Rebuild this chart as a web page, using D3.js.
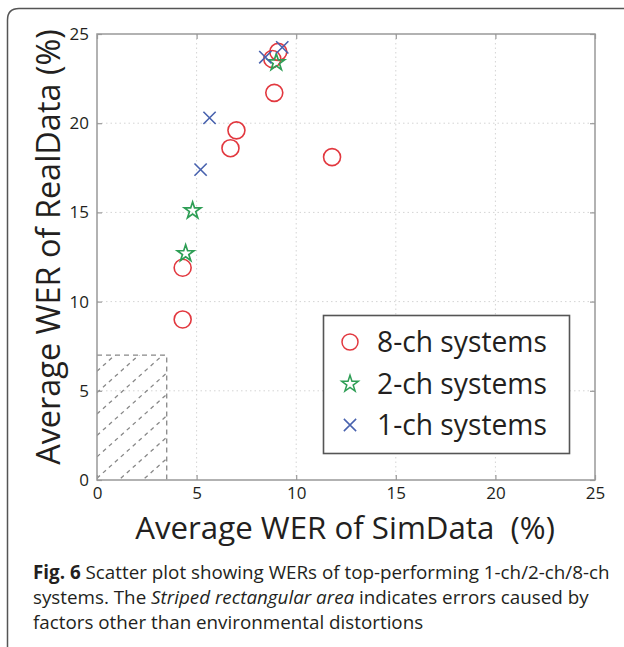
<!doctype html>
<html lang="en">
<head>
<meta charset="utf-8">
<title>WER scatter</title>
<script src="https://d3js.org/d3.v7.min.js"></script>
<style>
  body { margin: 0; background: #fff; }
  text { font-family: "Open Sans", "Noto Sans", sans-serif; fill: #231f20; }
</style>
</head>
<body>
<div id="chart"></div>
<script>
// data (x = SimData WER %, y = RealData WER %)
var ch8X = [4.3, 4.3, 6.7, 7.0, 11.8, 8.9, 8.8, 9.1];
var ch8Y = [9.0, 11.9, 18.6, 19.6, 18.1, 21.7, 23.6, 24.0];
var ch2X = [4.8, 4.45, 9.0];
var ch2Y = [15.1, 12.7, 23.4];
var ch1X = [5.2, 5.65, 8.45, 9.3];
var ch1Y = [17.4, 20.3, 23.7, 24.25];
var ticks = [0, 5, 10, 15, 20, 25];
var seriesNames = ["8-ch systems", "2-ch systems", "1-ch systems"];
// striped area: SimData 0..3.5, RealData 0..7
var areaX = [0, 3.5];
var areaY = [0, 7];

var width = 624, height = 647;
// plot box (window.top is reserved, so use other names)
var plotL = 97, plotR = 595, plotT = 34, plotB = 480;

var svg = d3.select("#chart").append("svg")
    .attr("width", width)
    .attr("height", height);

// figure frame (only left & top edge visible, rounded corner)
svg.append("path")
    .attr("d", "M7.5," + height + " L7.5,20 Q7.5,8.5 19,8.5 L" + width + ",8.5")
    .attr("fill", "none")
    .attr("stroke", "#555")
    .attr("stroke-width", 1.5);

var x = d3.scaleLinear().domain([0, 25]).range([plotL, plotR]);
var y = d3.scaleLinear().domain([0, 25]).range([plotB, plotT]);

// dotted grid
var inner = ticks.slice(1, -1);
svg.selectAll(".gx").data(inner).enter().append("line")
    .attr("x1", d => x(d)).attr("x2", d => x(d))
    .attr("y1", plotT).attr("y2", plotB)
    .attr("stroke", "#d4d4d4").attr("stroke-dasharray", "1.5,3");
svg.selectAll(".gy").data(inner).enter().append("line")
    .attr("y1", d => y(d)).attr("y2", d => y(d))
    .attr("x1", plotL).attr("x2", plotR)
    .attr("stroke", "#d4d4d4").attr("stroke-dasharray", "1.5,3");

// striped rectangle
var clip = svg.append("clipPath").attr("id", "areaClip");
clip.append("rect")
    .attr("x", x(areaX[0])).attr("y", y(areaY[1]))
    .attr("width", x(areaX[1]) - x(areaX[0]))
    .attr("height", y(areaY[0]) - y(areaY[1]));
var offsets = d3.range(-areaX[1], areaY[1] + 0.01, 1.2);
svg.append("g").attr("clip-path", "url(#areaClip)")
    .selectAll("line").data(offsets).enter().append("line")
    .attr("x1", d => x(areaX[0])).attr("y1", d => y(areaX[0] + d))
    .attr("x2", d => x(areaX[1])).attr("y2", d => y(areaX[1] + d))
    .attr("stroke", "#888").attr("stroke-width", 1.3)
    .attr("stroke-dasharray", "4,4");
svg.append("path")
    .attr("d", "M" + x(areaX[0]) + "," + y(areaY[1]) + "H" + x(areaX[1]) + "V" + y(areaY[0]))
    .attr("fill", "none").attr("stroke", "#888").attr("stroke-width", 1.3)
    .attr("stroke-dasharray", "5,4");

// axes box
svg.append("rect")
    .attr("x", plotL).attr("y", plotT)
    .attr("width", plotR - plotL).attr("height", plotB - plotT)
    .attr("fill", "none").attr("stroke", "#999").attr("stroke-width", 1.5);

// inner ticks on all four sides
var xb = svg.append("g").attr("transform", "translate(0," + plotB + ")")
    .call(d3.axisBottom(x).tickValues(ticks).tickSizeInner(-5).tickSizeOuter(0).tickPadding(6));
var yl = svg.append("g").attr("transform", "translate(" + plotL + ",0)")
    .call(d3.axisLeft(y).tickValues(ticks).tickSizeInner(-5).tickSizeOuter(0).tickPadding(10));
svg.append("g").attr("transform", "translate(0," + plotT + ")")
    .call(d3.axisTop(x).tickValues(ticks).tickSizeInner(-5).tickSizeOuter(0).tickFormat(""));
svg.append("g").attr("transform", "translate(" + plotR + ",0)")
    .call(d3.axisRight(y).tickValues(ticks).tickSizeInner(-5).tickSizeOuter(0).tickFormat(""));
svg.selectAll(".domain").remove();
svg.selectAll(".tick line").attr("stroke", "#999").attr("stroke-width", 1.2);
svg.selectAll(".tick text").style("font-size", "17px")
    .style("font-family", "'Open Sans', sans-serif").attr("fill", "#231f20");
xb.selectAll(".tick text").attr("dy", "0.75em");
yl.selectAll(".tick text").attr("dx", "2px");

// fit a text element to a target length
function fit(t, len) {
    var fs = parseFloat(t.style("font-size"));
    var w = t.node().getComputedTextLength();
    t.style("font-size", (fs * len / w) + "px");
}

// axis titles
var xt = svg.append("text")
    .attr("x", 345).attr("y", 539)
    .attr("text-anchor", "middle")
    .style("white-space", "pre")
    .style("font-size", "28px")
    .text("Average WER of SimData  (%)");
fit(xt, 420);
var yt = svg.append("text")
    .attr("transform", "translate(60,247) rotate(-90)")
    .attr("text-anchor", "middle")
    .style("font-size", "28px")
    .text("Average WER of RealData (%)");
fit(yt, 436);

// markers
var red = "#e2383f", green = "#2e9e55", blue = "#4862ae";
var star = d3.symbol().type(d3.symbolStar).size(85);
var cross = d3.symbol().type(d3.symbolTimes).size(100);

svg.selectAll(".c8").data(d3.range(ch8X.length)).enter().append("circle")
    .attr("cx", i => x(ch8X[i])).attr("cy", i => y(ch8Y[i]))
    .attr("r", 8.5).attr("fill", "none").attr("stroke", red).attr("stroke-width", 1.6);
svg.selectAll(".c2").data(d3.range(ch2X.length)).enter().append("path")
    .attr("d", star)
    .attr("transform", i => "translate(" + x(ch2X[i]) + "," + y(ch2Y[i]) + ")")
    .attr("fill", "none").attr("stroke", green).attr("stroke-width", 1.7);
svg.selectAll(".c1").data(d3.range(ch1X.length)).enter().append("path")
    .attr("d", cross)
    .attr("transform", i => "translate(" + x(ch1X[i]) + "," + y(ch1Y[i]) + ")")
    .attr("fill", "none").attr("stroke", blue).attr("stroke-width", 1.6);

// legend
var lg = svg.append("g");
lg.append("rect")
    .attr("x", 323.5).attr("y", 315.5).attr("width", 246).attr("height", 138)
    .attr("fill", "#fff").attr("stroke", "#555").attr("stroke-width", 1.6);
var rowY = [342, 384, 425];
var legSym = [null, star, cross];
var legCol = [red, green, blue];
seriesNames.forEach(function (name, i) {
    if (i === 0) {
        lg.append("circle").attr("cx", 350).attr("cy", rowY[i]).attr("r", 8)
            .attr("fill", "none").attr("stroke", legCol[i]).attr("stroke-width", 1.5);
    } else {
        lg.append("path").attr("d", legSym[i])
            .attr("transform", "translate(350," + rowY[i] + ")")
            .attr("fill", "none").attr("stroke", legCol[i]).attr("stroke-width", 1.5);
    }
    var t = lg.append("text").attr("x", 377).attr("y", rowY[i]).attr("dy", "0.36em")
        .style("font-size", "26px").text(name);
    if (i === 0) fit(t, 170);
    else t.style("font-size", lg.select("text").style("font-size"));
});

// caption
var capLines = [
    [["Fig. 6", "bold"], [" Scatter plot showing WERs of top-performing 1-ch/2-ch/8-ch", ""]],
    [["systems. The ", ""], ["Striped rectangular area", "italic"], [" indicates errors caused by", ""]],
    [["factors other than environmental distortions", ""]]
];
var capY = [579, 604, 629];
var capTexts = capLines.map(function (parts, i) {
    var t = svg.append("text").attr("x", 33).attr("y", capY[i])
        .style("font-size", "17px").style("white-space", "pre");
    parts.forEach(function (p) {
        var s = t.append("tspan").text(p[0]);
        if (p[1] === "bold") s.style("font-weight", "bold");
        if (p[1] === "italic") s.style("font-style", "italic");
    });
    return t;
});
fit(capTexts[0], 577);
var capFs = capTexts[0].style("font-size");
capTexts.forEach(t => t.style("font-size", capFs));
</script>
</body>
</html>
